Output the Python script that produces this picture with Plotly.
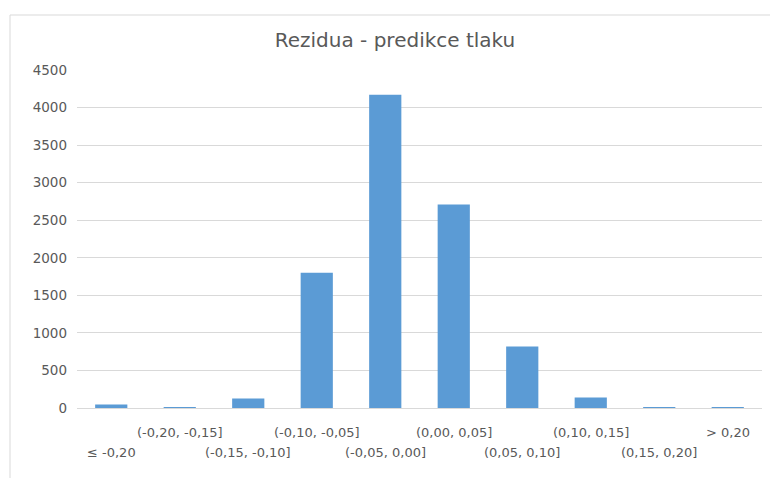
import plotly.graph_objects as go

categories = ["≤ -0,20", "(-0,20, -0,15]", "(-0,15, -0,10]", "(-0,10, -0,05]",
              "(-0,05, 0,00]", "(0,00, 0,05]", "(0,05, 0,10]", "(0,10, 0,15]",
              "(0,15, 0,20]", "> 0,20"]
counts = [45, 10, 125, 1800, 4170, 2710, 820, 140, 10, 10]
y_ticks = [0, 500, 1000, 1500, 2000, 2500, 3000, 3500, 4000, 4500]
title_text = "Rezidua - predikce tlaku"

FONT = "DejaVu Sans"
GRAY = "#595959"

fig = go.Figure()
fig.add_trace(go.Bar(x=categories, y=counts, marker=dict(color="#5b9bd5", line=dict(width=0)),
                     showlegend=False))

annotations = []
for i, c in enumerate(categories):
    annotations.append(dict(
        x=c, xref="x", y=0, yref="paper", text=c, showarrow=False,
        yanchor="middle", xanchor="center",
        yshift=-24.5 if i % 2 == 1 else -44.5,
        font=dict(family=FONT, size=13, color=GRAY)))

fig.update_layout(
    width=770, height=478,
    margin=dict(l=77, r=8, t=70, b=70, autoexpand=False),
    paper_bgcolor="white", plot_bgcolor="white",
    bargap=0.53,
    title=dict(text=title_text, x=0.513, xanchor="center", y=0.917, yanchor="middle",
               font=dict(family=FONT, size=20, color=GRAY)),
    xaxis=dict(type="category", categoryorder="array", categoryarray=categories,
               showticklabels=False, showgrid=False, showline=True,
               linecolor="#d9d9d9", linewidth=1, ticks="", zeroline=False),
    yaxis=dict(range=[0, 4500], tickvals=y_ticks, showgrid=True, gridcolor="#d9d9d9",
               gridwidth=1, zeroline=False, showline=False, ticks="",
               ticklabelstandoff=9, automargin=False,
               tickfont=dict(family=FONT, size=13.5, color=GRAY)),
    annotations=annotations,
    shapes=[dict(type="rect", xref="paper", yref="paper", layer="below",
                 x0=(10 - 77) / 685, x1=1.2, y0=-0.5, y1=1 + 55 / 338,
                 line=dict(color="#d9d9d9", width=1), fillcolor="rgba(0,0,0,0)")],
)

fig.write_html("out.html", config={"displayModeBar": False},
               post_script="document.body.style.margin='0';")
